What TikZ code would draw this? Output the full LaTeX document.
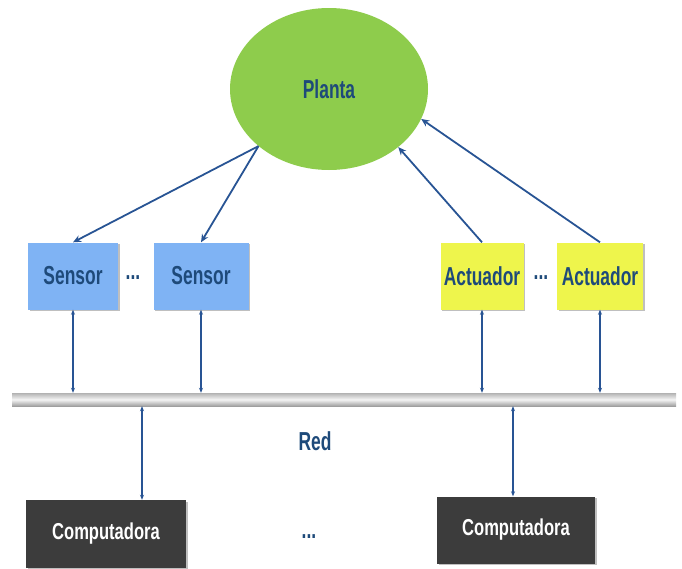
\documentclass[tikz,border=0pt]{standalone}
\usepackage{fontspec}
\newfontfamily\labelfont[FakeStretch=0.67]{Liberation Sans}
\newfontfamily\cmpfont[FakeStretch=0.72]{Liberation Sans}
\usetikzlibrary{arrows.meta,shadows,shapes.geometric}
\definecolor{plantgreen}{RGB}{142, 204, 76}
\definecolor{sensorblue}{RGB}{127, 179, 244}
\definecolor{actyellow}{RGB}{238, 245, 76}
\definecolor{cmpgray}{RGB}{60, 60, 60}
\definecolor{linkblue}{RGB}{40, 84, 148}
\definecolor{textblue}{RGB}{30, 74, 122}

\tikzset{
  boxshadow/.style={drop shadow={shadow xshift=1.5pt, shadow yshift=-1.5pt, opacity=0.25, fill=black}},
  devbox/.style={boxshadow, inner sep=0pt, minimum height=67pt, text=textblue,
    font=\labelfont\bfseries\fontsize{26}{30}\selectfont},
  sensorbox/.style={devbox, fill=sensorblue},
  actbox/.style={devbox, fill=actyellow},
  cmpbox/.style={boxshadow, fill=cmpgray, inner sep=0pt, minimum width=158pt, minimum height=67pt,
    text=white, font=\cmpfont\bfseries\fontsize{23}{27}\selectfont},
  bluetext/.style={text=textblue, font=\labelfont\bfseries\fontsize{26}{30}\selectfont},
  link/.style={draw=linkblue, line width=1.8pt, -{Stealth[length=8pt,width=7pt]}},
  buslink/.style={draw=linkblue, line width=1.3pt, {Stealth[length=5pt,width=4pt]}-{Stealth[length=5pt,width=4pt]}}
}

\begin{document}
\begin{tikzpicture}[x=1pt, y=-1pt]
\useasboundingbox (0,0) rectangle (682,568);

% plant
\node[ellipse, fill=plantgreen, inner sep=0pt, minimum width=198pt, minimum height=162pt,
  bluetext] (planta) at (329,89) {Planta};

% sensors and actuators
\node[sensorbox, minimum width=90pt] (s1) at (73,276) {Sensor};
\node[sensorbox, minimum width=95pt] (s2) at (201,276) {Sensor};
\node[bluetext] (sdots) at (133,278) {...};
\node[actbox, minimum width=83pt] (a1) at (482,276) {Actuador};
\node[actbox, minimum width=86pt] (a2) at (600,276) {Actuador};
\node[bluetext] (adots) at (541,278) {...};

% network bus
\node[inner sep=0pt, minimum width=664pt, minimum height=13pt,
  top color=gray!60, bottom color=gray!75, middle color=gray!8] (bus) at (344,399.5) {};
\node[bluetext] (red) at (315,441) {Red};

% computers
\node[cmpbox, minimum width=160pt, minimum height=68pt] (c1) at (106,534) {Computadora};
\node[cmpbox] (c2) at (516,530) {Computadora};
\node[bluetext] (cdots) at (309,537) {...};

% plant links
\draw[link] (planta.219) -- (s1.north);
\draw[link] (planta.219) -- (s2.north);
\draw[link] (a1.north) -- (planta.320);
\draw[link] (a2.north) -- (planta.342);

% bus links
\draw[buslink] (s1.south) -- (s1.south |- bus.north);
\draw[buslink] (s2.south) -- (s2.south |- bus.north);
\draw[buslink] (a1.south) -- (a1.south |- bus.north);
\draw[buslink] (a2.south) -- (a2.south |- bus.north);
\draw[buslink] ([xshift=36pt]c1.north |- bus.south) -- ([xshift=36pt]c1.north);
\draw[buslink] ([xshift=-3pt]c2.north |- bus.south) -- ([xshift=-3pt]c2.north);
\end{tikzpicture}
\end{document}
